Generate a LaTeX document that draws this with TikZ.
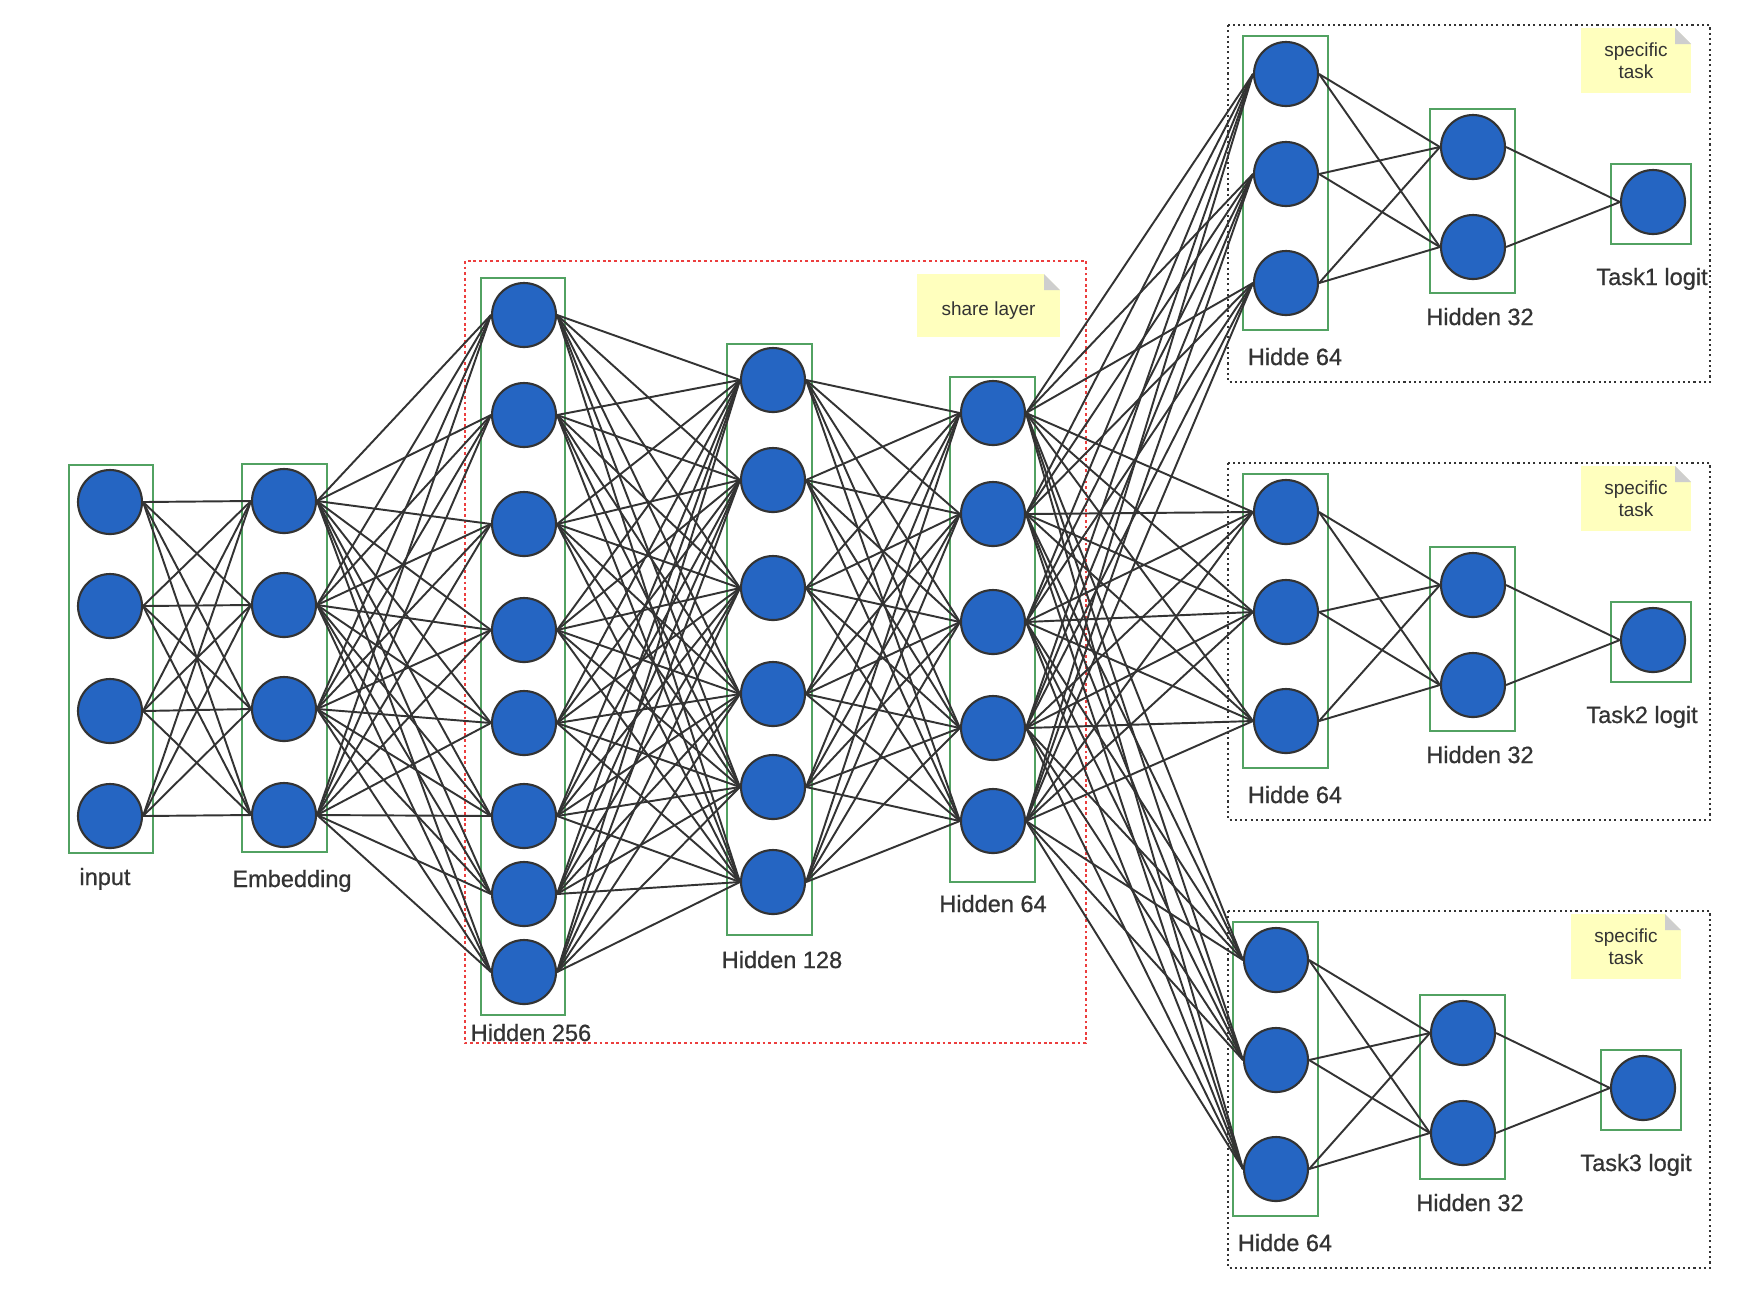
\documentclass[tikz,border=0pt]{standalone}
\usepackage{fontspec}
\setmainfont{Liberation Sans}
\newfontfamily\capfont[FakeBold=0.7]{Liberation Sans}
\definecolor{nodeblue}{RGB}{37,101,194}
\definecolor{linegray}{RGB}{51,51,51}
\definecolor{textgray}{RGB}{51,51,51}
\definecolor{boxgreen}{RGB}{82,162,98}
\definecolor{notefill}{RGB}{255,255,190}
\definecolor{foldgray}{RGB}{206,206,206}
\definecolor{sharered}{RGB}{236,62,62}
\begin{document}
\begin{tikzpicture}[
  neuron/.style={circle, draw=linegray, fill=nodeblue, line width=0.6pt, minimum size=0.64cm, inner sep=0pt},
  link/.style={draw=linegray, line width=0.55pt},
  layer/.style={draw=boxgreen, line width=0.65pt},
  caption/.style={anchor=base, inner sep=0pt, text=textgray, font=\capfont\fontsize{6.7}{8}\selectfont},
  note/.style={fill=notefill, inner sep=0pt, align=center, text=textgray, font=\fontsize{5.4}{6.2}\selectfont,
    path picture={
      \fill[white] (path picture bounding box.north east) -- ++(-0.16,0) -- ++(0.16,-0.16) -- cycle;
      \fill[foldgray] (path picture bounding box.north east) ++(-0.16,0) -- ++(0.16,-0.16) -- ++(-0.16,0) -- cycle;}},
  taskframe/.style={draw=linegray, line width=0.6pt, dash pattern=on 0.6pt off 0.9pt},
  shareframe/.style={draw=sharered, line width=0.75pt, dash pattern=on 0.8pt off 0.8pt}
]
\useasboundingbox (0,0) rectangle (17.58,-12.95);

% shared layers
\draw[shareframe] (4.65,-2.61) rectangle (10.86,-10.43);
\node[note, minimum width=1.43cm, minimum height=0.63cm, text height=6.7pt, text depth=1.1pt] (share) at (9.885,-3.055) {share layer};

\draw[layer] (0.69,-4.65) rectangle (1.53,-8.53);
\draw[layer] (2.42,-4.64) rectangle (3.27,-8.52);
\draw[layer] (4.81,-2.78) rectangle (5.65,-10.15);
\draw[layer] (7.27,-3.44) rectangle (8.12,-9.35);
\draw[layer] (9.50,-3.77) rectangle (10.35,-8.82);

\foreach \y [count=\i] in {5.02,6.06,7.11,8.16}
  \node[neuron] (in\i) at (1.10,-\y) {};
\foreach \y [count=\i] in {5.01,6.05,7.09,8.15}
  \node[neuron] (emb\i) at (2.84,-\y) {};
\foreach \y [count=\i] in {3.15,4.15,5.24,6.30,7.23,8.16,8.94,9.72}
  \node[neuron] (hh\i) at (5.24,-\y) {};
\foreach \y [count=\i] in {3.80,4.80,5.88,6.94,7.87,8.82}
  \node[neuron] (hm\i) at (7.73,-\y) {};
\foreach \y [count=\i] in {4.13,5.14,6.22,7.28,8.21}
  \node[neuron] (hs\i) at (9.93,-\y) {};

\node[caption] (lin) at (1.05,-8.85) {input};
\node[caption] (lemb) at (2.92,-8.87) {Embedding};
\node[caption] (lhh) at (5.31,-10.41) {Hidden 256};
\node[caption] (lhm) at (7.82,-9.68) {Hidden 128};
\node[caption] (lhs) at (9.93,-9.12) {Hidden 64};

\foreach \i in {1,...,4} \foreach \j in {1,...,4}
  \draw[link] (in\i.east) -- (emb\j.west);
\foreach \i in {1,...,4} \foreach \j in {1,...,8}
  \draw[link] (emb\i.east) -- (hh\j.west);
\foreach \i in {1,...,8} \foreach \j in {1,...,6}
  \draw[link] (hh\i.east) -- (hm\j.west);
\foreach \i in {1,...,6} \foreach \j in {1,...,5}
  \draw[link] (hm\i.east) -- (hs\j.west);

% task towers
\foreach \k/\dx/\dy/\lx in {1/0/0/16.52, 2/0/-4.38/16.42, 3/-0.10/-8.86/16.36} {
  \draw[taskframe] (12.28,{-0.25+\dy}) rectangle (17.10,{-3.82+\dy});
  \node[note, minimum width=1.10cm, minimum height=0.65cm] (note\k) at ({16.36+\dx},{-0.605+\dy}) {specific\\task};
  \draw[layer] ({12.43+\dx},{-0.36+\dy}) rectangle ({13.28+\dx},{-3.30+\dy});
  \draw[layer] ({14.30+\dx},{-1.09+\dy}) rectangle ({15.15+\dx},{-2.93+\dy});
  \draw[layer] ({16.11+\dx},{-1.64+\dy}) rectangle ({16.91+\dx},{-2.44+\dy});
  \foreach \y [count=\i] in {0.74,1.74,2.83}
    \node[neuron] (t\k-h\i) at ({12.86+\dx},{-\y+\dy}) {};
  \foreach \y [count=\i] in {1.47,2.47}
    \node[neuron] (t\k-g\i) at ({14.73+\dx},{-\y+\dy}) {};
  \node[neuron] (t\k-out) at ({16.53+\dx},{-2.02+\dy}) {};
  \node[caption] (t\k-lh) at ({12.95+\dx},{-3.65+\dy}) {Hidde 64};
  \node[caption] (t\k-lg) at ({14.80+\dx},{-3.25+\dy}) {Hidden 32};
  \node[caption] (t\k-lo) at (\lx,{-2.85+\dy}) {Task\k\ logit};
  \foreach \i in {1,...,5} \foreach \j in {1,2,3}
    \draw[link] (hs\i.east) -- (t\k-h\j.west);
  \foreach \i in {1,2,3} \foreach \j in {1,2}
    \draw[link] (t\k-h\i.east) -- (t\k-g\j.west);
  \foreach \j in {1,2}
    \draw[link] (t\k-g\j.east) -- (t\k-out.west);
}
\end{tikzpicture}
\end{document}
